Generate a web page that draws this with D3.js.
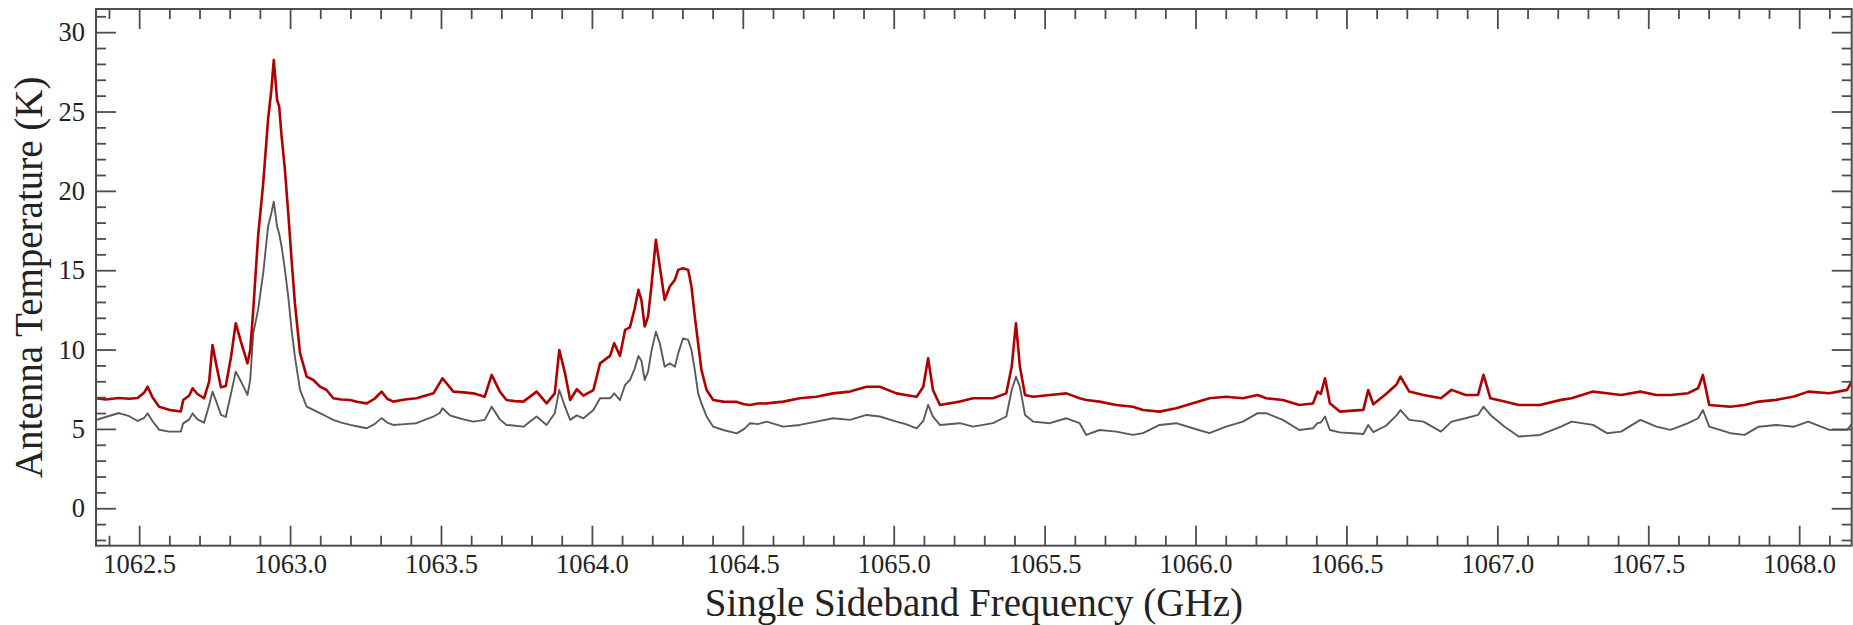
<!DOCTYPE html>
<html>
<head>
<meta charset="utf-8">
<script src="https://cdn.jsdelivr.net/npm/d3@7/dist/d3.min.js"></script>
<style>
  html, body { margin: 0; padding: 0; background: #fff; }
  svg { display: block; }
  text { font-family: "Liberation Serif", "DejaVu Serif", serif; }
</style>
</head>
<body>
<svg id="chart" width="1853" height="625"></svg>
<script>
// ---- data ----
const freqGHz = [
  1062.357,1062.389,1062.433,1062.467,1062.495,1062.517,1062.528,1062.544,1062.566,1062.599,
  1062.638,1062.646,1062.666,1062.677,1062.693,1062.715,1062.732,1062.743,1062.756,1062.771,
  1062.787,1062.804,1062.820,1062.837,1062.859,1062.868,1062.878,1062.894,1062.911,1062.927,
  1062.938,1062.946,1062.957,1062.964,1062.972,1062.983,1062.994,1063.005,1063.016,1063.033,
  1063.055,1063.077,1063.099,1063.121,1063.143,1063.170,1063.199,1063.225,1063.254,1063.280,
  1063.303,1063.322,1063.342,1063.380,1063.419,1063.450,1063.475,1063.496,1063.505,1063.530,
  1063.541,1063.575,1063.607,1063.645,1063.668,1063.695,1063.717,1063.745,1063.773,1063.817,
  1063.850,1063.877,1063.892,1063.911,1063.928,1063.950,1063.972,1064.005,1064.027,1064.060,
  1064.074,1064.093,1064.110,1064.126,1064.142,1064.154,1064.164,1064.175,1064.186,1064.197,
  1064.212,1064.225,1064.241,1064.258,1064.275,1064.286,1064.302,1064.319,1064.330,1064.341,
  1064.352,1064.363,1064.380,1064.402,1064.435,1064.480,1064.505,1064.524,1064.550,1064.579,
  1064.634,1064.689,1064.744,1064.799,1064.855,1064.910,1064.954,1065.009,1065.040,1065.076,
  1065.098,1065.114,1065.130,1065.153,1065.219,1065.263,1065.329,1065.373,1065.391,1065.405,
  1065.418,1065.435,1065.462,1065.517,1065.572,1065.616,1065.638,1065.682,1065.737,1065.792,
  1065.826,1065.881,1065.936,1065.991,1066.046,1066.101,1066.157,1066.206,1066.234,1066.289,
  1066.344,1066.389,1066.404,1066.415,1066.429,1066.445,1066.478,1066.522,1066.556,1066.572,
  1066.589,1066.631,1066.666,1066.679,1066.708,1066.755,1066.813,1066.848,1066.895,1066.936,
  1066.954,1066.977,1067.024,1067.071,1067.141,1067.211,1067.246,1067.317,1067.363,1067.410,
  1067.474,1067.527,1067.574,1067.632,1067.665,1067.681,1067.702,1067.772,1067.819,1067.866,
  1067.924,1067.983,1068.030,1068.100,1068.159,1068.174
];
const redTemp = [
  6.93,6.85,6.95,6.90,6.95,7.30,7.66,7.00,6.40,6.20,
  6.10,6.82,7.10,7.56,7.20,6.93,8.00,10.29,9.00,7.62,
  7.70,9.50,11.66,10.50,9.13,9.97,12.50,17.11,20.48,24.47,
  26.36,28.25,25.73,25.31,23.42,21.32,18.59,15.65,12.92,9.77,
  8.29,8.08,7.66,7.45,6.93,6.85,6.82,6.70,6.61,6.90,
  7.35,6.90,6.72,6.85,6.93,7.10,7.24,7.90,8.19,7.60,
  7.35,7.30,7.24,7.03,8.40,7.35,6.82,6.75,6.72,7.35,
  6.61,7.24,9.97,8.50,6.82,7.50,7.10,7.45,9.13,9.60,
  10.40,9.60,11.24,11.40,12.60,13.76,13.13,11.45,12.08,13.97,
  16.91,15.23,13.13,13.97,14.39,15.02,15.13,15.02,13.97,12.08,
  10.40,8.71,7.45,6.82,6.72,6.70,6.55,6.51,6.60,6.61,
  6.72,6.93,7.03,7.24,7.35,7.66,7.66,7.24,7.14,7.03,
  7.66,9.45,7.45,6.51,6.72,6.93,6.93,7.24,8.93,11.66,
  8.93,7.14,7.03,7.14,7.24,6.93,6.82,6.72,6.51,6.40,
  6.19,6.09,6.30,6.61,6.93,7.03,6.93,7.14,6.93,6.82,
  6.51,6.60,7.35,7.20,8.19,6.61,6.09,6.15,6.20,7.45,
  6.55,7.20,7.80,8.29,7.35,7.14,6.93,7.46,7.14,7.14,
  8.40,6.93,6.72,6.51,6.51,6.83,6.93,7.35,7.25,7.14,
  7.35,7.14,7.14,7.25,7.56,8.40,6.51,6.40,6.51,6.72,
  6.83,7.04,7.35,7.25,7.46,8.00
];
const grayTemp = [
  5.56,5.75,6.00,5.80,5.50,5.70,5.98,5.50,4.95,4.83,
  4.83,5.35,5.60,5.98,5.60,5.39,6.50,7.35,6.70,5.88,
  5.75,7.20,8.61,8.00,7.14,8.09,11.03,12.50,14.81,17.75,
  18.59,19.32,17.75,17.30,16.48,15.02,13.34,11.24,9.55,7.46,
  6.41,6.20,5.99,5.78,5.57,5.40,5.25,5.15,5.04,5.30,
  5.68,5.40,5.25,5.30,5.36,5.60,5.78,6.00,6.30,5.85,
  5.78,5.60,5.46,5.57,6.40,5.60,5.25,5.20,5.14,5.78,
  5.25,5.99,7.45,6.40,5.57,5.85,5.67,6.19,6.93,6.93,
  7.24,6.82,7.77,8.08,8.80,9.60,9.30,8.08,8.61,9.87,
  11.13,10.40,8.92,9.13,8.92,9.76,10.71,10.61,9.97,8.71,
  7.24,6.61,5.78,5.14,4.93,4.72,5.00,5.36,5.30,5.46,
  5.14,5.25,5.46,5.67,5.57,5.88,5.78,5.46,5.30,5.04,
  5.50,6.51,5.78,5.25,5.36,5.14,5.36,5.78,7.45,8.29,
  7.66,5.88,5.46,5.36,5.67,5.36,4.62,4.93,4.83,4.62,
  4.73,5.25,5.36,5.04,4.73,5.14,5.46,5.99,5.99,5.57,
  4.93,5.04,5.36,5.40,5.78,4.93,4.78,4.73,4.68,5.25,
  4.80,5.20,5.85,6.19,5.57,5.46,4.83,5.46,5.67,5.88,
  6.40,5.88,5.14,4.52,4.62,5.14,5.46,5.25,4.73,4.83,
  5.57,5.14,4.94,5.36,5.67,6.19,5.14,4.73,4.62,5.14,
  5.25,5.14,5.46,4.94,4.94,5.30
];
const xMajorTicks = [1062.5,1063.0,1063.5,1064.0,1064.5,1065.0,1065.5,1066.0,1066.5,1067.0,1067.5,1068.0];
const xMinorTicks = [1062.4,1062.6,1062.7,1062.8,1062.9,1063.1,1063.2,1063.3,1063.4,1063.6,1063.7,1063.8,1063.9,
  1064.1,1064.2,1064.3,1064.4,1064.6,1064.7,1064.8,1064.9,1065.1,1065.2,1065.3,1065.4,1065.6,1065.7,1065.8,1065.9,
  1066.1,1066.2,1066.3,1066.4,1066.6,1066.7,1066.8,1066.9,1067.1,1067.2,1067.3,1067.4,1067.6,1067.7,1067.8,1067.9,1068.1];
const yMajorTicks = [0,5,10,15,20,25,30];
const yMinorTicks = [-2,-1,1,2,3,4,6,7,8,9,11,12,13,14,16,17,18,19,21,22,23,24,26,27,28,29,31];
const xDomain = [1062.357, 1068.174];
const yDomain = [-2.36, 31.46];
const xTitle = "Single Sideband Frequency (GHz)";
const yTitle = "Antenna Temperature (K)";

// ---- layout ----
const L = 96, R = 1851.7, T = 9, B = 545.7;
const axisColor = "#4d4d4d";
const textColor = "#222";

const svg = d3.select("#chart");
const x = d3.scaleLinear().domain(xDomain).range([L, R]);
const y = d3.scaleLinear().domain(yDomain).range([B, T]);

const seriesRed = freqGHz.map((f, i) => [f, redTemp[i]]);
const seriesGray = freqGHz.map((f, i) => [f, grayTemp[i]]);
const line = d3.line().x(d => x(d[0])).y(d => y(d[1])).curve(d3.curveLinear);

const plot = svg.append("g");
plot.append("defs").append("clipPath").attr("id", "clip")
  .append("rect").attr("x", L).attr("y", T).attr("width", R - L).attr("height", B - T);
const lines = plot.append("g").attr("clip-path", "url(#clip)");
lines.append("path").datum(seriesGray)
  .attr("fill", "none").attr("stroke", "#5a5a5a").attr("stroke-width", 1.9)
  .attr("stroke-linejoin", "round").attr("d", line);
lines.append("path").datum(seriesRed)
  .attr("fill", "none").attr("stroke", "#b00000").attr("stroke-width", 2.6)
  .attr("stroke-linejoin", "round").attr("d", line);

function styleAxis(g) {
  g.select(".domain").remove();
  g.selectAll(".tick line").attr("stroke", axisColor).attr("stroke-width", 1.8);
  g.selectAll(".tick text").attr("fill", textColor)
    .style("font-family", '"Liberation Serif", serif').style("font-size", "26.5px");
}

// bottom
svg.append("g").attr("transform", `translate(0,${B})`)
  .call(d3.axisBottom(x).tickValues(xMajorTicks).tickFormat(d3.format(".1f"))
    .tickSize(-20).tickSizeOuter(0).tickPadding(8))
  .call(styleAxis);
svg.append("g").attr("transform", `translate(0,${B})`)
  .call(d3.axisBottom(x).tickValues(xMinorTicks).tickFormat("").tickSize(-10).tickSizeOuter(0))
  .call(styleAxis);
// top
svg.append("g").attr("transform", `translate(0,${T})`)
  .call(d3.axisTop(x).tickValues(xMajorTicks).tickFormat("").tickSize(-20).tickSizeOuter(0))
  .call(styleAxis);
svg.append("g").attr("transform", `translate(0,${T})`)
  .call(d3.axisTop(x).tickValues(xMinorTicks).tickFormat("").tickSize(-10).tickSizeOuter(0))
  .call(styleAxis);
// left
svg.append("g").attr("transform", `translate(${L},0)`)
  .call(d3.axisLeft(y).tickValues(yMajorTicks).tickFormat(d3.format("d"))
    .tickSize(-20).tickSizeOuter(0).tickPadding(11))
  .call(styleAxis);
svg.append("g").attr("transform", `translate(${L},0)`)
  .call(d3.axisLeft(y).tickValues(yMinorTicks).tickFormat("").tickSize(-10).tickSizeOuter(0))
  .call(styleAxis);
// right
svg.append("g").attr("transform", `translate(${R},0)`)
  .call(d3.axisRight(y).tickValues(yMajorTicks).tickFormat("").tickSize(-20).tickSizeOuter(0))
  .call(styleAxis);
svg.append("g").attr("transform", `translate(${R},0)`)
  .call(d3.axisRight(y).tickValues(yMinorTicks).tickFormat("").tickSize(-10).tickSizeOuter(0))
  .call(styleAxis);

// frame
svg.append("rect").attr("x", L).attr("y", T).attr("width", R - L).attr("height", B - T)
  .attr("fill", "none").attr("stroke", axisColor).attr("stroke-width", 2);

// titles
svg.append("text").attr("x", (L + R) / 2).attr("y", 616)
  .attr("text-anchor", "middle").attr("fill", textColor)
  .style("font-size", "39px").text(xTitle);
svg.append("text").attr("transform", `translate(42,${(T + B) / 2}) rotate(-90)`)
  .attr("text-anchor", "middle").attr("fill", textColor)
  .style("font-size", "39px").text(yTitle);
</script>
</body>
</html>
